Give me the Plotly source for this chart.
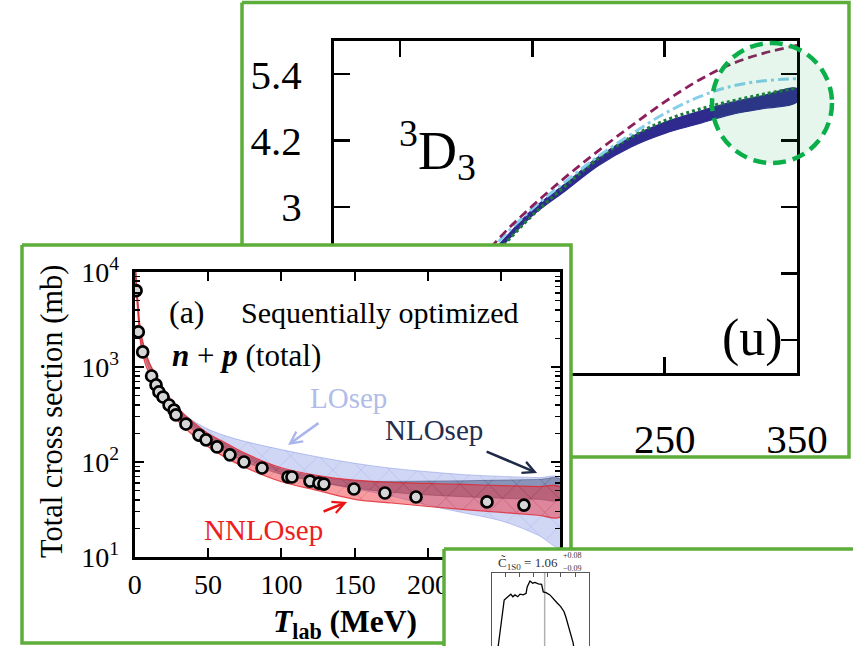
import math
import plotly.graph_objects as go

W, H = 853, 646
GREEN = "#5DAD3A"
SERIF = "Liberation Serif, DejaVu Serif, serif"

# ---------------- panel (u): 3D3 phase shift ----------------
u_T = [0, 25, 50, 75, 100, 125, 150, 175, 200, 225, 250, 275, 300, 325, 350]
u_band_mid = [0.0, 0.05, 0.3, 0.9, 1.6, 2.28, 2.9, 3.36, 3.83, 4.18, 4.43, 4.61, 4.78, 4.9, 5.02]
u_band_half = [0.01, 0.01, 0.02, 0.03, 0.04, 0.045, 0.055, 0.065, 0.08, 0.09, 0.10, 0.11, 0.11, 0.12, 0.12]
u_dashed = [0.0, 0.05, 0.36, 0.97, 1.72, 2.44, 3.02, 3.54, 4.02, 4.47, 4.9, 5.28, 5.58, 5.78, 5.92]
u_dashdot = [0.0, 0.05, 0.33, 0.93, 1.66, 2.39, 2.97, 3.46, 3.92, 4.32, 4.69, 4.98, 5.18, 5.28, 5.32]
u_dotted = [0.0, 0.04, 0.28, 0.85, 1.5, 2.22, 2.85, 3.38, 3.88, 4.27, 4.56, 4.76, 4.91, 5.04, 5.15]
u_xticks = [50, 150, 250, 350]
u_xticktext = ["", "", "250", "350"]          # 50 and 150 lie under panel (a)
u_yticks = [0.6, 1.8, 3.0, 4.2, 5.4]
u_yticktext = ["", "", "3", "4.2", "5.4"]     # 0.6 and 1.8 lie under panel (a)

# ---------------- panel (a): n+p total cross section ----------------
a_T = [0.9, 2.4, 5.4, 11.5, 14.5, 16.5, 19.3, 23.4, 26.8, 28.1, 34.9, 43.8, 48.6, 56.1,
       64.9, 74.5, 86.8, 104.5, 107.2, 119.5, 125.6, 129.0, 149.5, 170.6, 191.8, 240.2, 265.4]
a_sigma = [6360, 2340, 1440, 804, 647, 546, 483, 398, 352, 313, 251, 192, 171, 144,
           119, 100, 86.5, 69.5, 69.5, 63, 60, 58.6, 52, 47.2, 42.8, 38, 35.2]

band_T = [0.3, 1, 2, 4, 7, 10, 15, 20, 30, 40, 50, 60, 75, 100, 125, 150, 175, 200, 225, 250, 275, 290]
nnlo_hi = [15000, 8800, 5300, 2400, 1520, 1110, 790, 580, 362, 262, 200, 165, 124, 87, 72, 64.5, 61, 59.5, 58, 56.5, 55, 54.5]
nnlo_lo = [10500, 6400, 3900, 1760, 1100, 840, 585, 430, 265, 190, 145, 116, 88, 62, 50, 40.5, 37, 34, 31.5, 29.5, 27.5, 26.4]
nlo_hi = [14500, 8500, 5150, 2330, 1480, 1080, 770, 565, 352, 255, 195, 160, 120, 84, 70, 63.5, 62.5, 63, 63.5, 64.5, 65.5, 66]
nlo_lo = [11500, 7000, 4300, 1950, 1240, 930, 650, 480, 300, 215, 165, 133, 101, 74, 62, 53, 48, 45, 43, 41.5, 40.5, 40]

lo_T = [28, 35, 40, 50, 60, 75, 100, 125, 150, 175, 200, 225, 250, 275, 290]
lo_hi = [370, 305, 270, 222, 193, 165, 135, 113, 97, 86, 79, 73.5, 70.5, 68.5, 67.5]
lo_lo = [370, 270, 235, 180, 145, 110, 78, 62, 52, 44, 35, 29, 24, 17, 12.7]

a_xticks = [0, 50, 100, 150, 200, 250]
a_yticks = [10, 100, 1000, 10000]
a_yticktext = ["10<sup>1</sup>", "10<sup>2</sup>", "10<sup>3</sup>", "10<sup>4</sup>"]
a_yminor = [m * 10 ** d for d in (1, 2, 3) for m in range(2, 10)]

# arrow targets (T, sigma) for labels
arrow_LO = (104.5, 151)
arrow_NLO = (274.4, 76.6)
arrow_NNLO = (144.8, 37.9)

# ---------------- panel (c): posterior histogram ----------------
c_x = [0.888, 0.893, 0.914, 0.923, 0.938, 0.945, 0.953, 0.963, 0.971, 0.983, 0.993, 0.997,
       1.007, 1.017, 1.025, 1.037, 1.049, 1.055, 1.065, 1.079, 1.094, 1.106, 1.118, 1.13,
       1.137, 1.145, 1.154, 1.163, 1.166]
c_y = [-0.08, 0.014, 0.63, 0.66, 0.71, 0.675, 0.70, 0.675, 0.71, 0.70, 0.72, 0.81,
       0.89, 0.86, 0.87, 0.85, 0.845, 0.74, 0.73, 0.70, 0.63, 0.585, 0.54, 0.47,
       0.39, 0.29, 0.17, 0.04, -0.05]
c_median = 1.06
c_xticks = [0.917, 0.971, 1.019, 1.069, 1.118, 1.170]


def fx(px):
    return px / W


def fy(py):
    return 1 - py / H


# layout geometry (pixels)
FRAME_U = (242, 2.5, 849, 457)
FRAME_A = (22, 245, 571, 643)
FRAME_C = (444, 549, 900, 700)

fig = go.Figure()


def frame_trace(fr, axn):
    x0, y0, x1, y1 = fr
    return go.Scatter(x=[x0, x1, x1, x0, x0], y=[y0, y0, y1, y1, y0], mode="lines",
                      fill="toself", fillcolor="white",
                      line=dict(color=GREEN, width=3.5),
                      xaxis="x" + axn, yaxis="y" + axn, hoverinfo="skip", showlegend=False)


# ---- subplot 1: frame U
fig.add_trace(frame_trace(FRAME_U, ""))

# ---- subplot 2: panel u data
band_up = [m + h for m, h in zip(u_band_mid, u_band_half)]
band_dn = [m - h for m, h in zip(u_band_mid, u_band_half)]
fig.add_trace(go.Scatter(x=u_T + u_T[::-1], y=band_up + band_dn[::-1], mode="lines",
                         fill="toself", fillcolor="#2E2A8E", line=dict(color="#2E2A8E", width=1.2, shape="spline"),
                         xaxis="x2", yaxis="y2", hoverinfo="skip"))
fig.add_trace(go.Scatter(x=u_T, y=u_dotted, mode="lines",
                         line=dict(color="#1E7A3C", width=3.2, dash="3px,3px", shape="spline"),
                         xaxis="x2", yaxis="y2"))
fig.add_trace(go.Scatter(x=u_T, y=u_dashdot, mode="lines",
                         line=dict(color="#87CEEB", width=3, dash="11px,4px,3px,4px", shape="spline"),
                         xaxis="x2", yaxis="y2"))
fig.add_trace(go.Scatter(x=u_T, y=u_dashed, mode="lines",
                         line=dict(color="#8A1F5C", width=2.8, dash="9px,5px", shape="spline"),
                         xaxis="x2", yaxis="y2"))

# ---- subplot 3: frame A
fig.add_trace(frame_trace(FRAME_A, "3"))

# ---- subplot 4: panel a data
fig.add_trace(go.Scatter(x=lo_T + lo_T[::-1], y=lo_hi + lo_lo[::-1], mode="lines",
                         fill="toself", fillcolor="rgba(120,140,225,0.35)",
                         fillpattern=dict(shape="x", size=20, solidity=0.05, fgopacity=0.35,
                                          bgcolor="rgba(120,140,225,0.35)", fgcolor="rgb(90,110,200)"),
                         line=dict(color="rgba(120,140,225,0.45)", width=1, shape="spline"),
                         xaxis="x4", yaxis="y4", hoverinfo="skip"))
fig.add_trace(go.Scatter(x=band_T + band_T[::-1], y=nlo_hi + nlo_lo[::-1], mode="lines",
                         fill="toself", fillcolor="rgba(40,55,100,0.42)",
                         fillpattern=dict(shape="x", size=20, solidity=0.05, fgopacity=0.35,
                                          bgcolor="rgba(40,55,100,0.42)", fgcolor="rgb(20,30,70)"),
                         line=dict(color="rgba(40,55,100,0.4)", width=1, shape="spline"),
                         xaxis="x4", yaxis="y4", hoverinfo="skip"))
fig.add_trace(go.Scatter(x=band_T + band_T[::-1], y=nnlo_hi + nnlo_lo[::-1], mode="lines",
                         fill="toself", fillcolor="rgba(238,45,55,0.47)",
                         fillpattern=dict(shape="x", size=20, solidity=0.05, fgopacity=0.35,
                                          bgcolor="rgba(238,45,55,0.47)", fgcolor="rgb(170,20,30)"),
                         line=dict(color="rgba(225,35,45,0.8)", width=1.2, shape="spline"),
                         xaxis="x4", yaxis="y4", hoverinfo="skip"))
fig.add_trace(go.Scatter(x=a_T, y=a_sigma, mode="markers",
                         marker=dict(size=11, color="#D6D6D6", line=dict(color="black", width=2.7)),
                         xaxis="x4", yaxis="y4"))

# ---- subplot 5: frame C
fig.add_trace(frame_trace(FRAME_C, "5"))

# ---- subplot 6: panel c data
fig.add_trace(go.Scatter(x=[c_median, c_median], y=[0, 1], mode="lines",
                         line=dict(color="#B0B0B0", width=1.5), xaxis="x6", yaxis="y6"))
fig.add_trace(go.Scatter(x=c_x, y=c_y, mode="lines", line=dict(color="black", width=1.3),
                         xaxis="x6", yaxis="y6"))

hidden = dict(visible=False, fixedrange=True, automargin=False)
frame_x = dict(range=[0, W], domain=[0, 1], **hidden)
frame_y = dict(range=[H, 0], domain=[0, 1], **hidden)

u_axis = dict(showline=True, linecolor="black", linewidth=3, mirror="ticks",
              ticks="inside", ticklen=16, tickwidth=2.5, tickcolor="black",
              showgrid=False, zeroline=False, automargin=False,
              tickfont=dict(family=SERIF, size=41, color="black"))
a_axis = dict(showline=True, linecolor="black", linewidth=3, mirror="ticks",
              ticks="inside", ticklen=9, tickwidth=2, tickcolor="black",
              showgrid=False, zeroline=False, automargin=False,
              tickfont=dict(family=SERIF, size=28, color="black"))

fig.update_layout(
    template="none",
    width=W, height=H, margin=dict(l=0, r=0, t=0, b=0, pad=0, autoexpand=False),
    paper_bgcolor="white", plot_bgcolor="rgba(0,0,0,0)", showlegend=False,
    font=dict(family=SERIF, color="black"),
    xaxis=dict(anchor="y", **frame_x), yaxis=dict(anchor="x", **frame_y),
    xaxis3=dict(anchor="y3", **frame_x), yaxis3=dict(anchor="x3", **frame_y),
    xaxis5=dict(anchor="y5", **frame_x), yaxis5=dict(anchor="x5", **frame_y),
    xaxis2=dict(anchor="y2", domain=[fx(334), fx(797)], range=[0, 350],
                tickvals=u_xticks, ticktext=u_xticktext, ticklabelstandoff=28, **u_axis),
    yaxis2=dict(anchor="x2", domain=[fy(373), fy(41)], range=[0, 6],
                tickvals=u_yticks, ticktext=u_yticktext, ticklabelstandoff=21, **u_axis),
    xaxis4=dict(anchor="y4", domain=[fx(134.75), fx(560)], range=[0, 290],
                tickvals=a_xticks, ticklabelstandoff=0, **a_axis),
    yaxis4=dict(anchor="x4", domain=[fy(557), fy(272)], type="log", range=[1, 4],
                tickvals=a_yticks, ticktext=a_yticktext, ticklabelstandoff=7,
                minor=dict(tickmode="array", tickvals=a_yminor, ticks="inside",
                           ticklen=5, tickwidth=1.5, tickcolor="black"),
                **a_axis),
    xaxis6=dict(anchor="y6", domain=[fx(492), fx(589)], range=[0.87, 1.22], side="top",
                showline=True, linecolor="#555", linewidth=1.2, mirror=False,
                ticks="inside", ticklen=4, tickwidth=1, tickcolor="#555",
                tickvals=c_xticks, showticklabels=False, showgrid=False, zeroline=False,
                fixedrange=True, automargin=False),
    yaxis6=dict(anchor="x6", domain=[0, fy(573)], range=[0, 1],
                showline=True, linecolor="#555", linewidth=1.2, mirror=True,
                ticks="", showticklabels=False, showgrid=False, zeroline=False,
                fixedrange=True, automargin=False),
)

# highlight circle on panel (u)
fig.add_shape(type="circle", xref="paper", yref="paper",
              x0=fx(712), x1=fx(832), y0=fy(163), y1=fy(43),
              line=dict(color="#0AAF4A", width=4.5, dash="13px,7px"),
              fillcolor="rgba(20,170,80,0.10)", layer="above")


def ann(text, px, py, size, color="black", xanchor="center", **kw):
    fig.add_annotation(text=text, x=fx(px), y=fy(py), xref="paper", yref="paper",
                       showarrow=False, xanchor=xanchor, yanchor="middle",
                       font=dict(family=SERIF, size=size, color=color), **kw)


# panel (u) labels
ann("<sup>3</sup>D<sub>3</sub>", 437, 150, 54)
ann("(u)", 752, 338, 52)

# panel (a) labels
ann("(a)", 187, 312, 32)
ann("Sequentially optimized", 379, 312, 30)
ann("<b><i>n</i></b> + <b><i>p</i></b> (total)", 246, 355, 31)
ann("LOsep", 348, 398, 29, color="rgb(178,188,232)")
ann("NLOsep", 434, 430, 29, color="rgb(35,45,78)")
ann("NNLOsep", 263, 530, 29, color="rgb(236,30,30)")
ann("Total cross section (mb)", 52, 412, 30.5, textangle=-90)
ann("<b><i>T</i><sub>lab</sub> (MeV)</b>", 345, 624, 31.5)


def arrow(target, dx, dy, color):
    fig.add_annotation(x=target[0], y=math.log10(target[1]), xref="x4", yref="y4",
                       ax=dx, ay=dy, text="", showarrow=True, arrowhead=5,
                       arrowsize=0.9, arrowwidth=2.6, arrowcolor=color)


arrow(arrow_LO, 32, -23, "rgb(170,182,235)")
arrow(arrow_NLO, -52, -22, "rgb(30,42,72)")
arrow(arrow_NNLO, -25, 10, "rgb(235,20,20)")

# panel (c) title
ann("C\u0303<sub>1S0</sub> = 1.06", 560, 563, 13, color="#333", xanchor="right")
ann("+0.08", 561, 555, 8, color="#333", xanchor="left")
ann("\u22120.09", 561, 568, 8, color="#333", xanchor="left")

fig.write_html("out.html", config={"displayModeBar": False, "staticPlot": True},
               post_script="document.body.style.margin='0';document.body.style.overflow='hidden';")
